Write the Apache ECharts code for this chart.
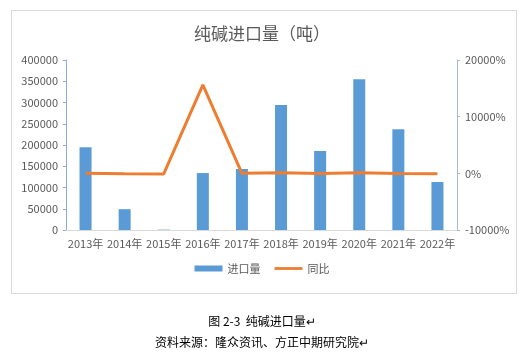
<!DOCTYPE html>
<html><head><meta charset="utf-8">
<script src="https://cdn.jsdelivr.net/npm/echarts@6/dist/echarts.min.js"></script>
<style>html,body{margin:0;padding:0;background:#fff}#c{width:524px;height:356px}</style>
</head><body><div id="c"></div>
<script>
var categories = ['2013年','2014年','2015年','2016年','2017年','2018年','2019年','2020年','2021年','2022年'];
var importVol = [195000, 49000, 850, 134000, 143500, 294000, 186000, 355000, 237000, 113000];
var yoy = [0, -75, -98, 15600, 7, 105, -37, 91, -33, -52];
var leftTicks = {min: 0, max: 400000, interval: 50000};
var rightTicks = {min: -10000, max: 20000, interval: 10000};

var font = '"Microsoft YaHei","Noto Sans CJK SC",sans-serif';
var chart = echarts.init(document.getElementById('c'));
chart.setOption({
  animation: false,
  backgroundColor: '#fff',
  textStyle: {fontFamily: font},
  title: {
    text: '纯碱进口量（吨）', left: 'center', top: 20,
    textStyle: {fontSize: 17, fontWeight: 'normal', color: '#595959', fontFamily: font}
  },
  grid: {left: 66, right: 67, top: 60, bottom: 126},
  legend: {
    bottom: 77, left: 'center', itemWidth: 28, itemHeight: 6, itemGap: 14,
    textStyle: {fontSize: 11, color: '#595959', fontFamily: font},
    data: [
      {name: '进口量', icon: 'rect'},
      {name: '同比', icon: 'path://M0,0 M0,1.6 L28,1.6 L28,4.4 L0,4.4 Z M28,6'}
    ]
  },
  xAxis: {
    type: 'category', data: categories,
    axisLine: {lineStyle: {color: '#D9D9D9'}},
    axisTick: {show: false},
    axisLabel: {color: '#595959', fontSize: 11, margin: 8, interval: 0, fontFamily: font}
  },
  yAxis: [{
    type: 'value', min: leftTicks.min, max: leftTicks.max, interval: leftTicks.interval,
    axisLine: {show: true, lineStyle: {color: '#8FAADC'}},
    axisTick: {show: true, length: 3, lineStyle: {color: '#8FAADC'}},
    splitLine: {show: false},
    axisLabel: {color: '#595959', fontSize: 11, margin: 8, fontFamily: font,
      formatter: function (v) { return String(v); }}
  }, {
    type: 'value', min: rightTicks.min, max: rightTicks.max, interval: rightTicks.interval,
    position: 'right',
    axisLine: {show: true, lineStyle: {color: '#ADB9CA'}},
    axisTick: {show: true, length: 3, lineStyle: {color: '#ADB9CA'}},
    splitLine: {show: false},
    axisLabel: {color: '#595959', fontSize: 11, margin: 8, fontFamily: font,
      formatter: function (v) { return v + '%'; }}
  }],
  series: [{
    name: '进口量', type: 'bar', data: importVol, barWidth: 12,
    itemStyle: {color: '#5B9BD5'}
  }, {
    name: '同比', type: 'line', yAxisIndex: 1, data: yoy,
    symbol: 'none', lineStyle: {color: '#ED7D31', width: 3}, itemStyle: {color: '#ED7D31'}
  }],
  graphic: [
    {type: 'rect', shape: {x: 11.5, y: 10.5, width: 505, height: 283}, style: {fill: 'none', stroke: '#D9D9D9', lineWidth: 1}, z: -1},
    {type: 'text', left: 'center', top: 315, style: {text: '图 2-3  纯碱进口量↵', fontSize: 12, fill: '#000', fontFamily: font}},
    {type: 'text', left: 'center', top: 336, style: {text: '资料来源：隆众资讯、方正中期研究院↵', fontSize: 12, fill: '#000', fontFamily: font}}
  ]
});
</script></body></html>
